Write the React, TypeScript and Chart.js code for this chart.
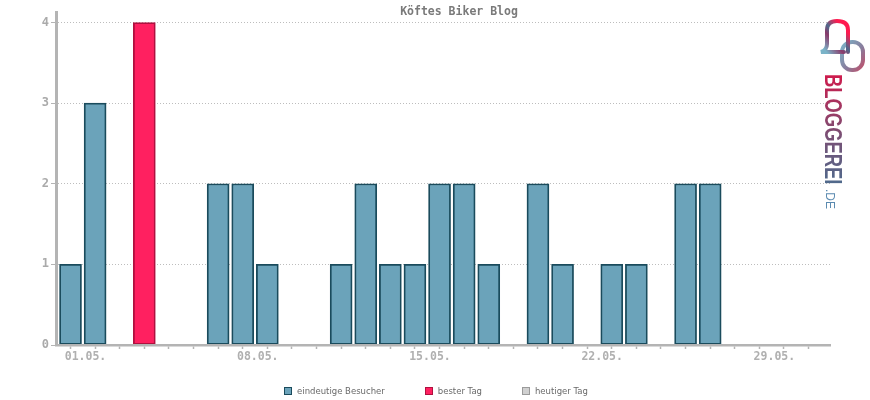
import React, { useEffect, useRef } from "react";
import { Chart, registerables } from "chart.js";

Chart.register(...registerables);

const TITLE = "Köftes Biker Blog";
const days = [
  "01.05.", "02.05.", "03.05.", "04.05.", "05.05.", "06.05.", "07.05.", "08.05.",
  "09.05.", "10.05.", "11.05.", "12.05.", "13.05.", "14.05.", "15.05.", "16.05.",
  "17.05.", "18.05.", "19.05.", "20.05.", "21.05.", "22.05.", "23.05.", "24.05.",
  "25.05.", "26.05.", "27.05.", "28.05.", "29.05.", "30.05.", "31.05.",
];
const visitors = [
  1, 3, 0, 4, 0, 0, 2, 2, 1, 0, 0, 1, 2, 1, 1, 2, 2, 1, 0, 2, 1, 0, 1, 1, 0, 2, 2, 0, 0, 0, 0,
];
const todayValues: number[] = [];
const xTickLabels = ["01.05.", "08.05.", "15.05.", "22.05.", "29.05."];
const yTicks = [0, 1, 2, 3, 4];
const seriesNames = ["eindeutige Besucher", "bester Tag", "heutiger Tag"];
const seriesFills = ["#6ba3ba", "#ff2060", "#d0d0d0"];
const seriesBorders = ["#1a4b5c", "#b0103f", "#9a9a9a"];

const bestIndex = visitors.indexOf(Math.max(...visitors));

const titlePlugin = {
  id: "customTitle",
  afterDraw(chart: any) {
    const ctx = chart.ctx;
    ctx.save();
    ctx.font = 'bold 11.5px "DejaVu Sans Mono"';
    ctx.fillStyle = "#7a7a7a";
    ctx.textAlign = "center";
    ctx.textBaseline = "middle";
    ctx.fillText(TITLE, 459, 12);
    ctx.restore();
  },
};

export default function App() {
  const ref = useRef<HTMLCanvasElement | null>(null);

  useEffect(() => {
    if (!ref.current) return;
    const blueData = visitors
      .map((v, i) => ({ x: i, y: i === bestIndex ? null : v }))
      .filter((p) => p.y !== null);
    const redData = [{ x: bestIndex, y: visitors[bestIndex] }];
    const greyData = todayValues.map((v, i) => ({ x: i, y: v }));
    const sets = [blueData, redData, greyData];

    const chart = new Chart(ref.current, {
      type: "bar",
      data: {
        datasets: sets.map((d, k) => ({
          label: seriesNames[k],
          data: d as any,
          backgroundColor: seriesFills[k],
          borderColor: seriesBorders[k],
          borderWidth: 1.8,
          borderSkipped: false,
          barThickness: 22,
          grouped: false,
        })),
      },
      options: {
        animation: false,
        responsive: false,
        maintainAspectRatio: false,
        devicePixelRatio: 1,
        layout: { autoPadding: false, padding: { left: 0, right: 0, top: 12, bottom: 33 } },
        plugins: {
          title: { display: false },
          tooltip: { enabled: false },
          legend: { display: false },
        },
        scales: {
          x: {
            type: "linear",
            min: -0.59,
            max: 30.87,
            offset: false,
            afterBuildTicks: (s: any) => {
              s.ticks = days.map((_, i) => ({ value: i }));
            },
            afterFit: (s: any) => {
              s.height = 22;
            },
            grid: {
              display: true,
              drawOnChartArea: false,
              offset: false,
              tickLength: 4,
              tickColor: "#b4b4b4",
              tickWidth: 1.5,
              z: 1,
            },
            border: { display: true, color: "#b4b4b4", width: 2.5, z: 1 },
            ticks: {
              autoSkip: false,
              maxRotation: 0,
              minRotation: 0,
              labelOffset: 15,
              padding: 1,
              color: "#b0b0b0",
              font: { family: "DejaVu Sans Mono", size: 11.5, weight: "bold" },
              callback: (v: any) => {
                const lab = days[Number(v)];
                return xTickLabels.includes(lab) ? lab : "";
              },
            },
          },
          y: {
            min: 0,
            max: 4.13,
            afterBuildTicks: (s: any) => {
              s.ticks = yTicks.map((v) => ({ value: v }));
            },
            afterFit: (s: any) => {
              s.width = 56;
            },
            grid: {
              color: "#bdbdbd",
              lineWidth: 1,
              tickLength: 5,
              tickColor: "#b4b4b4",
              tickBorderDash: [],
              tickWidth: 1,
            },
            border: { display: true, color: "#b4b4b4", width: 3, dash: [1, 2] },
            ticks: {
              padding: 2,
              color: "#aaaaaa",
              font: { family: "DejaVu Sans Mono", size: 12, weight: "bold" },
              callback: (v: any) => String(v),
            },
          },
          yR: {
            position: "right",
            display: true,
            min: 0,
            max: 1,
            grid: { display: false, drawTicks: false },
            border: { display: false },
            ticks: { display: false },
            afterFit: (s: any) => {
              s.width = 40;
            },
          },
        },
      } as any,
      plugins: [titlePlugin],
    });
    return () => chart.destroy();
  }, []);

  return (
    <div style={{ position: "absolute", left: 0, top: 0, width: 870, height: 400, background: "#fff" }}>
      <canvas ref={ref} width={870} height={400} style={{ display: "block" }} />
      <div
        style={{
          position: "absolute",
          left: 1,
          top: 386,
          width: 870,
          height: 10,
          display: "flex",
          justifyContent: "center",
          alignItems: "center",
          gap: 40,
          fontFamily: '"DejaVu Sans"',
          fontSize: 8.5,
          lineHeight: "10px",
          color: "#6a6a6a",
          whiteSpace: "nowrap",
        }}
      >
        {seriesNames.map((n, i) => (
          <div key={n} style={{ display: "flex", alignItems: "center" }}>
            <span
              style={{
                display: "inline-block",
                width: 8,
                height: 8,
                boxSizing: "border-box",
                border: `1.5px solid ${seriesBorders[i]}`,
                background: seriesFills[i],
                marginRight: 5,
              }}
            />
            <span>{n}</span>
          </div>
        ))}
      </div>
      <svg
        width="50"
        height="60"
        viewBox="0 0 50 60"
        style={{ position: "absolute", left: 818, top: 16 }}
      >
        <defs>
          <linearGradient id="lg1" x1="0" y1="1" x2="1" y2="0">
            <stop offset="0.1" stopColor="#7ab3c8" />
            <stop offset="0.4" stopColor="#8a3a6a" />
            <stop offset="0.55" stopColor="#4d6a8c" />
            <stop offset="0.8" stopColor="#ff1a4f" />
          </linearGradient>
          <linearGradient id="lg2" x1="0" y1="0" x2="1" y2="1">
            <stop offset="0" stopColor="#7ab3c8" />
            <stop offset="0.6" stopColor="#8a7a9a" />
            <stop offset="1" stopColor="#c0506a" />
          </linearGradient>
        </defs>
        <rect x="24" y="26" width="21" height="28" rx="10" fill="none" stroke="url(#lg2)" strokeWidth="4" />
        <path
          d="M9 28 V14 Q9 5 19 5 Q30 5 30 14 V36 M9 28 Q9 34 3 36 H26"
          fill="none"
          stroke="url(#lg1)"
          strokeWidth="4"
          strokeLinecap="round"
        />
      </svg>
      <div
        style={{
          position: "absolute",
          left: 843,
          top: 74,
          transformOrigin: "left top",
          transform: "rotate(90deg) scale(0.8,1)",
          fontFamily: '"Liberation Sans", Arial, sans-serif',
          fontWeight: "bold",
          fontSize: 23,
          lineHeight: "20px",
          whiteSpace: "nowrap",
          background: "linear-gradient(90deg, #d01a4c, #7a4f74 55%, #4f6a8c)",
          WebkitBackgroundClip: "text",
          backgroundClip: "text",
          color: "transparent",
        }}
      >
        BLOGGEREI
      </div>
      <div
        style={{
          position: "absolute",
          left: 836,
          top: 189,
          transformOrigin: "left top",
          transform: "rotate(90deg)",
          fontFamily: '"Liberation Sans", Arial, sans-serif',
          fontSize: 12,
          lineHeight: "12px",
          whiteSpace: "nowrap",
          color: "#5a8ab0",
        }}
      >
        .DE
      </div>
    </div>
  );
}
